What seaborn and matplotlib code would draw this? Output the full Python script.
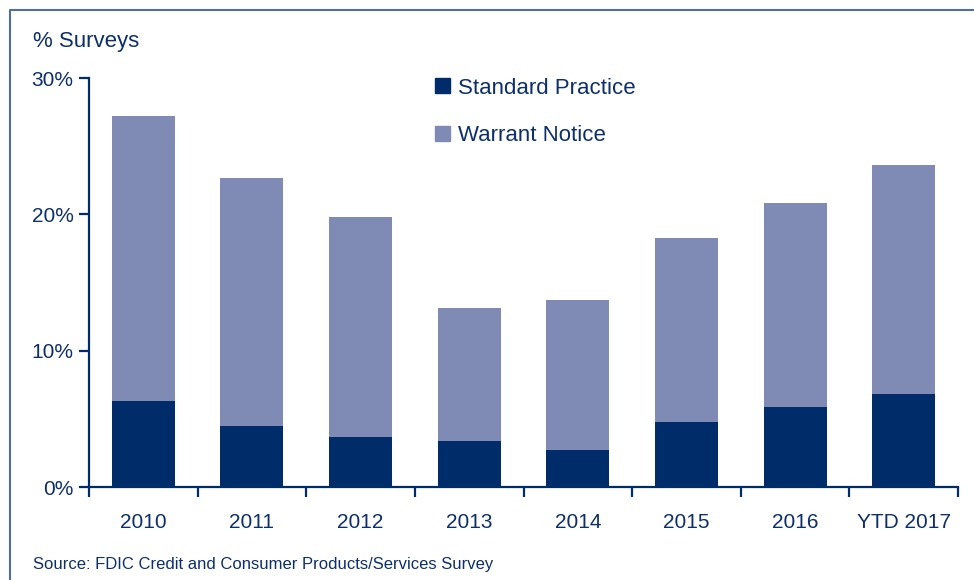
import matplotlib
matplotlib.use('Agg')
import matplotlib.pyplot as plt
import matplotlib.patches as mpatches
import seaborn as sns
import pandas as pd

# Data (percent of surveys)
years = ['2010', '2011', '2012', '2013', '2014', '2015', '2016', 'YTD 2017']
standard = [6.3, 4.5, 3.7, 3.4, 2.7, 4.8, 5.9, 6.8]
warrant = [20.9, 18.2, 16.1, 9.7, 11.0, 13.5, 14.9, 16.8]

navy = '#002c69'
light = '#7f8bb4'
text_col = '#0d2f6a'

df = pd.DataFrame({'year': years, 'standard': standard, 'warrant': warrant})
df['total'] = df['standard'] + df['warrant']

sns.set_style('white')
plt.rcParams['font.family'] = ['Liberation Sans', 'DejaVu Sans']

fig = plt.figure(figsize=(9.74, 5.8), dpi=100)
ax = fig.add_axes([0.0914, 0.1603, 0.8922, 0.7052])

# stacked bars: draw total (warrant) first, then standard over it
sns.barplot(data=df, x='year', y='total', color=light, width=0.58,
            saturation=1, ax=ax, linewidth=0)
sns.barplot(data=df, x='year', y='standard', color=navy, width=0.58,
            saturation=1, ax=ax, linewidth=0)

ax.set_xlim(-0.5, len(years) - 0.5)
ax.set_ylim(0, 30)
ax.set_yticks([0, 10, 20, 30])
ax.set_yticklabels(['0%', '10%', '20%', '30%'])
ax.set_xlabel('')
ax.set_ylabel('')

for s in ['top', 'right']:
    ax.spines[s].set_visible(False)
for s in ['left', 'bottom']:
    ax.spines[s].set_color(navy)
    ax.spines[s].set_linewidth(1.6)

ax.set_xticks([i - 0.5 for i in range(len(years) + 1)], minor=True)
ax.tick_params(axis='x', which='major', length=0, pad=19,
               labelsize=15, labelcolor=text_col)
ax.tick_params(axis='x', which='minor', length=7, width=1.6, color=navy,
               direction='out', bottom=True)
ax.tick_params(axis='y', length=7, width=1.6, color=navy, direction='out',
               left=True, labelsize=15, labelcolor=text_col, pad=4)

handles = [mpatches.Patch(color=navy, label='Standard Practice'),
           mpatches.Patch(color=light, label='Warrant Notice')]
leg = ax.legend(handles=handles, loc='upper left',
                bbox_to_anchor=(0.375, 1.05), frameon=False,
                fontsize=16, handlelength=0.68, handleheight=0.68,
                handletextpad=0.35, labelspacing=1.2)
for t in leg.get_texts():
    t.set_color(text_col)

fig.text(33 / 974, 1 - 41 / 580, '% Surveys', fontsize=16,
         color=text_col, va='center', ha='left')
fig.text(33 / 974, 1 - 565 / 580,
         'Source: FDIC Credit and Consumer Products/Services Survey',
         fontsize=12, color=text_col, va='center', ha='left')

# frame line at top and left of the picture
fig.add_artist(plt.Line2D([10 / 974, 10 / 974, 1.0],
                          [0.0, 1 - 9.5 / 580, 1 - 9.5 / 580],
                          transform=fig.transFigure, color='#4f6e9c',
                          linewidth=1.5))

fig.savefig('out.png', dpi=100)
